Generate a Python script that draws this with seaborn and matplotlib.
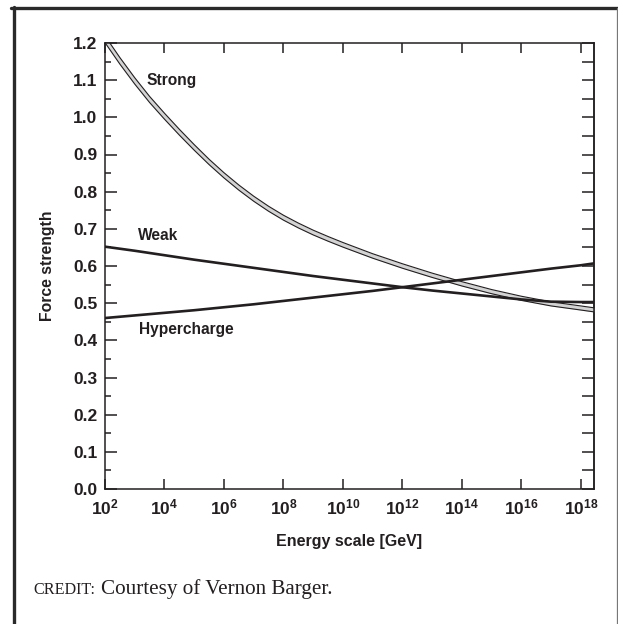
"""Running of the three gauge couplings with energy (force unification plot)."""

import matplotlib

matplotlib.use("Agg")

import matplotlib.pyplot as plt
import numpy as np
import pandas as pd
import seaborn as sns
from matplotlib.lines import Line2D
from matplotlib.ticker import FormatStrFormatter, MultipleLocator, NullLocator

# log10 of the energy scale [GeV] at which the strong band was read
STRONG_EXP = [2.0, 2.5, 3.0, 3.5, 4.0, 4.5, 5.0, 5.5, 6.0, 6.5, 7.0, 7.5,
              8.0, 8.5, 9.0, 9.5, 10, 11, 12, 13, 14, 15, 16, 17, 18, 18.44]
STRONG = [1.210, 1.152, 1.098, 1.048, 1.003, 0.960, 0.919, 0.880, 0.844,
          0.811, 0.781, 0.754, 0.730, 0.709, 0.690, 0.673, 0.657, 0.627,
          0.600, 0.575, 0.552, 0.531, 0.513, 0.498, 0.487, 0.482]
STRONG_HALFWIDTH = [0.0090, 0.0088, 0.0085, 0.0082, 0.0080, 0.0078, 0.0075,
                    0.0072, 0.0070, 0.0069, 0.0068, 0.0067, 0.0066, 0.0065,
                    0.0064, 0.0063, 0.0062, 0.0060, 0.0060, 0.0058, 0.0058,
                    0.0056, 0.0056, 0.0055, 0.0055, 0.0055]

# log10 of the energy scale [GeV] at which the two straight-ish lines were read
LINE_EXP = [2, 3, 4, 5, 6, 7, 8, 9, 10, 11, 12, 13, 14, 15, 16, 17, 18, 18.44]
WEAK = [0.652, 0.641, 0.629, 0.617, 0.606, 0.595, 0.584, 0.573, 0.563,
        0.553, 0.543, 0.534, 0.526, 0.518, 0.510, 0.504, 0.503, 0.503]
HYPERCHARGE = [0.460, 0.467, 0.474, 0.481, 0.489, 0.497, 0.506, 0.515, 0.524,
               0.533, 0.543, 0.553, 0.563, 0.573, 0.583, 0.593, 0.602, 0.607]

X_TICK_EXP = [2, 4, 6, 8, 10, 12, 14, 16, 18]
Y_TICKS = [0.0, 0.1, 0.2, 0.3, 0.4, 0.5, 0.6, 0.7, 0.8, 0.9, 1.0, 1.1, 1.2]

INK = "#231f20"

sns.set_theme(style="ticks")
plt.rcParams["font.family"] = ["Liberation Sans", "DejaVu Sans"]
plt.rcParams["font.weight"] = "bold"
plt.rcParams["mathtext.fontset"] = "custom"
plt.rcParams["mathtext.rm"] = "Liberation Sans:bold"
plt.rcParams["mathtext.bf"] = "Liberation Sans:bold"
plt.rcParams["axes.edgecolor"] = INK

strong_df = pd.DataFrame({"energy": np.power(10.0, STRONG_EXP),
                          "strong": STRONG, "halfwidth": STRONG_HALFWIDTH})
strong_df["lo"] = strong_df["strong"] - strong_df["halfwidth"]
strong_df["hi"] = strong_df["strong"] + strong_df["halfwidth"]

lines_df = pd.DataFrame({"energy": np.power(10.0, LINE_EXP), "weak": WEAK,
                         "hypercharge": HYPERCHARGE})

fig = plt.figure(figsize=(6.18, 6.24), dpi=100)
ax = fig.add_axes([105 / 618, 1 - 489 / 624, 489 / 618, 446 / 624])

# strong coupling drawn as a grey band with black edges
ax.fill_between(strong_df["energy"], strong_df["lo"], strong_df["hi"],
                color="#d3d3d3", linewidth=0, zorder=2)
sns.lineplot(data=strong_df, x="energy", y="lo", color=INK, lw=0.8, ax=ax,
             zorder=3)
sns.lineplot(data=strong_df, x="energy", y="hi", color=INK, lw=0.8, ax=ax,
             zorder=3)
sns.lineplot(data=lines_df, x="energy", y="weak", color=INK, lw=1.9, ax=ax,
             zorder=4)
sns.lineplot(data=lines_df, x="energy", y="hypercharge", color=INK, lw=1.9,
             ax=ax, zorder=4)

ax.set_xscale("log")
ax.set_xlim(10.0 ** LINE_EXP[0], 10.0 ** LINE_EXP[-1])
ax.set_ylim(0, 1.2)

ax.set_xticks([10.0 ** e for e in X_TICK_EXP])
ax.set_xticklabels([f"$\\mathbf{{10^{{{e}}}}}$" for e in X_TICK_EXP],
                   fontsize=12.5)
ax.xaxis.set_minor_locator(NullLocator())
ax.set_yticks(Y_TICKS)
ax.yaxis.set_major_formatter(FormatStrFormatter("%.1f"))
ax.yaxis.set_minor_locator(MultipleLocator(0.05))

ax.tick_params(axis="x", which="major", direction="in", top=True,
               length=7.2, width=1.1, color=INK, pad=6, labelcolor=INK)
ax.tick_params(axis="y", which="major", direction="in", length=8.6,
               width=1.1, color=INK, pad=5.5, labelsize=12.5, labelcolor=INK)
ax.tick_params(axis="y", which="minor", direction="in", length=4.3,
               width=1.1, color=INK)

right = ax.secondary_yaxis("right")
right.set_yticks(np.arange(0, 1.201, 0.05))
right.yaxis.set_minor_locator(NullLocator())
right.tick_params(direction="in", length=8.6, width=1.1, color=INK,
                  labelright=False)

for sp in list(ax.spines.values()) + list(right.spines.values()):
    sp.set_linewidth(1.1)
    sp.set_color(INK)

ax.set_xlabel("Energy scale [GeV]", fontsize=11.5, fontweight="bold",
              color=INK, labelpad=12)
ax.set_ylabel("Force strength", fontsize=11.3, fontweight="bold",
              color=INK, labelpad=13)

ax.text(10 ** 3.41, 1.10, "Strong", fontsize=11.2, fontweight="bold",
        color=INK, va="center", ha="left")
ax.text(10 ** 3.11, 0.683, "Weak", fontsize=11.2, fontweight="bold",
        color=INK, va="center", ha="left")
ax.text(10 ** 3.14, 0.428, "Hypercharge", fontsize=11.2, fontweight="bold",
        color=INK, va="center", ha="left")

# credit line and page frame
fig.text(33 / 618, 1 - 590 / 624, "CREDIT:", fontsize=11.6,
         family="Liberation Serif", fontweight="normal", color=INK,
         va="center", ha="left")
fig.text(101 / 618, 1 - 589 / 624, "Courtesy of Vernon Barger.",
         fontsize=15.2, family="Liberation Serif", fontweight="normal",
         color=INK, va="center", ha="left")

fig.add_artist(Line2D([11 / 618, 1.0], [1 - 7.5 / 624, 1 - 7.5 / 624],
                      transform=fig.transFigure, color="#2a2a2a", lw=2.4))
fig.add_artist(Line2D([13.5 / 618, 13.5 / 618], [0, 1 - 6.5 / 624],
                      transform=fig.transFigure, color="#2a2a2a", lw=2.4))
fig.add_artist(Line2D([616.5 / 618, 616.5 / 618], [0, 1 - 7.5 / 624],
                      transform=fig.transFigure, color="#777777", lw=0.9))

fig.savefig("out.png", dpi=100, facecolor="white")
